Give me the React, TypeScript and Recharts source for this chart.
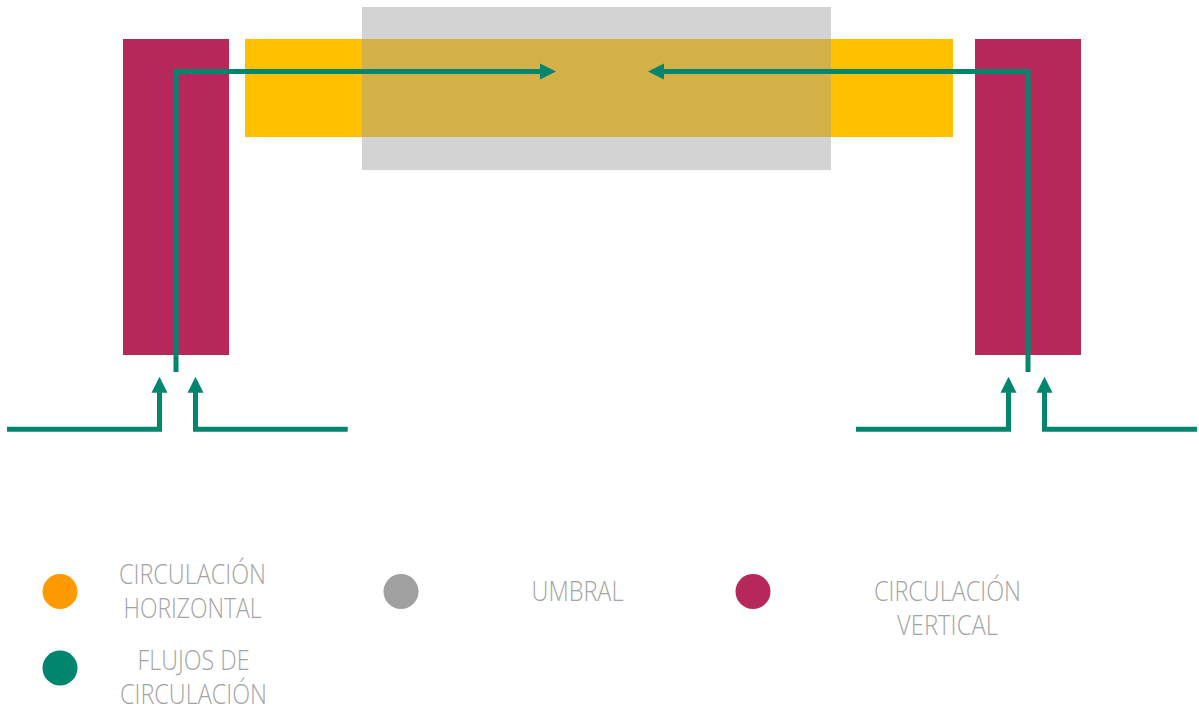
import React from 'react';
import { ComposedChart, XAxis, YAxis, ReferenceArea, Line, Scatter, Legend } from 'recharts';

// ---- Diagram data (x: 0..1199, y: 0..550, measured from the top) ----
const verticalCirculation = [
  { x1: 123, x2: 229, y1: 39, y2: 355 },
  { x1: 975, x2: 1081, y1: 39, y2: 355 },
];
const horizontalCirculation = [{ x1: 245, x2: 953, y1: 39, y2: 137 }];
const threshold = [{ x1: 362, x2: 831, y1: 7, y2: 170 }];

const flowTopLeft = [
  { x: 176, y: 372 },
  { x: 176, y: 71.5 },
  { x: 541, y: 71.5 },
];
const flowTopRight = [
  { x: 1028, y: 372 },
  { x: 1028, y: 71.5 },
  { x: 663, y: 71.5 },
];
const flowBottomLeftA = [
  { x: 7, y: 429.2 },
  { x: 159.5, y: 429.2 },
  { x: 159.5, y: 391 },
];
const flowBottomLeftB = [
  { x: 347.7, y: 429.2 },
  { x: 195.5, y: 429.2 },
  { x: 195.5, y: 391 },
];
const flowBottomRightA = [
  { x: 856, y: 429.2 },
  { x: 1008.5, y: 429.2 },
  { x: 1008.5, y: 391 },
];
const flowBottomRightB = [
  { x: 1197, y: 429.2 },
  { x: 1044.5, y: 429.2 },
  { x: 1044.5, y: 391 },
];
const flows = [flowTopLeft, flowTopRight, flowBottomLeftA, flowBottomLeftB, flowBottomRightA, flowBottomRightB];

const arrowHeads = [
  { x: 556, y: 71.5, dir: 'right' },
  { x: 648, y: 71.5, dir: 'left' },
  { x: 159.5, y: 376.7, dir: 'up' },
  { x: 195.5, y: 376.7, dir: 'up' },
  { x: 1008.5, y: 376.7, dir: 'up' },
  { x: 1044.5, y: 376.7, dir: 'up' },
];

// ---- Legend ----
const legendLabels = [
  ['CIRCULACIÓN', 'HORIZONTAL'],
  ['UMBRAL'],
  ['CIRCULACIÓN', 'VERTICAL'],
  ['FLUJOS DE', 'CIRCULACIÓN'],
];
const legendColors = ['#FF9900', '#A0A0A0', '#B7285A', '#00856F'];

const COLORS = {
  vertical: '#B7285A',
  horizontal: '#FFC000',
  threshold: '#9E9E9E',
  flow: '#00856F',
  text: '#A3A3A3',
};

// layout of the legend block (relative to its own top-left corner)
const legendLayout = [
  { cx: 60, cy: 41.5, tx: 192.5, ty: 34 },
  { cx: 401, cy: 41.5, tx: 577.5, ty: 51 },
  { cx: 753, cy: 41.5, tx: 947.5, ty: 51 },
  { cx: 60, cy: 118, tx: 193.5, ty: 120 },
];
const textWidths: Record<string, number> = {
  'CIRCULACIÓN': 147,
  HORIZONTAL: 138,
  UMBRAL: 92,
  VERTICAL: 101,
  'FLUJOS DE': 112,
};

const LegendContent = () => (
  <div style={{ width: 1199, height: 161 }}>
    <svg width={1199} height={161} style={{ display: 'block' }}>
      {legendLabels.map((lines, i) => {
        const l = legendLayout[i];
        return (
          <g key={i}>
            <circle cx={l.cx} cy={l.cy} r={17.5} fill={legendColors[i]} />
            {lines.map((t, j) => (
              <text
                key={j}
                x={l.tx}
                y={l.ty + j * 33.5}
                textAnchor="middle"
                fill={COLORS.text}
                fontFamily="'Open Sans', sans-serif"
                fontWeight={300}
                fontSize={27}
                textLength={textWidths[t]}
                lengthAdjust="spacingAndGlyphs"
              >
                {t}
              </text>
            ))}
          </g>
        );
      })}
    </svg>
  </div>
);

const ArrowHead = (props: any) => {
  const { cx, cy, payload } = props;
  const L = 16;
  const hw = 8;
  let pts = '';
  if (payload.dir === 'right') pts = `${cx},${cy} ${cx - L},${cy - hw} ${cx - L},${cy + hw}`;
  else if (payload.dir === 'left') pts = `${cx},${cy} ${cx + L},${cy - hw} ${cx + L},${cy + hw}`;
  else pts = `${cx},${cy} ${cx - hw},${cy + L} ${cx + hw},${cy + L}`;
  return <polygon points={pts} fill={COLORS.flow} />;
};

export default function App() {
  return (
    <div style={{ position: 'absolute', left: 0, top: 0, width: 1199, height: 711, background: '#fff' }}>
      <ComposedChart width={1199} height={711} margin={{ top: 0, right: 0, bottom: 0, left: 0 }}>
        <XAxis type="number" dataKey="x" domain={[0, 1199]} hide allowDataOverflow />
        <YAxis type="number" dataKey="y" domain={[0, 550]} reversed hide allowDataOverflow />
        {verticalCirculation.map((r, i) => (
          <ReferenceArea key={`v${i}`} {...r} fill={COLORS.vertical} fillOpacity={1} stroke="none" ifOverflow="visible" />
        ))}
        {horizontalCirculation.map((r, i) => (
          <ReferenceArea key={`h${i}`} {...r} fill={COLORS.horizontal} fillOpacity={1} stroke="none" ifOverflow="visible" />
        ))}
        {threshold.map((r, i) => (
          <ReferenceArea key={`t${i}`} {...r} fill={COLORS.threshold} fillOpacity={0.455} stroke="none" ifOverflow="visible" />
        ))}
        {flows.map((f, i) => (
          <Line
            key={`f${i}`}
            data={f}
            dataKey="y"
            type="linear"
            stroke={COLORS.flow}
            strokeWidth={5}
            strokeLinejoin="miter"
            strokeLinecap="butt"
            dot={false}
            activeDot={false}
            isAnimationActive={false}
            legendType="none"
          />
        ))}
        <Scatter data={arrowHeads} dataKey="y" shape={ArrowHead} isAnimationActive={false} legendType="none" />
        <Legend
          verticalAlign="bottom"
          align="left"
          content={() => <LegendContent />}
          wrapperStyle={{ left: 0, bottom: 0, width: 1199, height: 161 }}
        />
      </ComposedChart>
    </div>
  );
}
